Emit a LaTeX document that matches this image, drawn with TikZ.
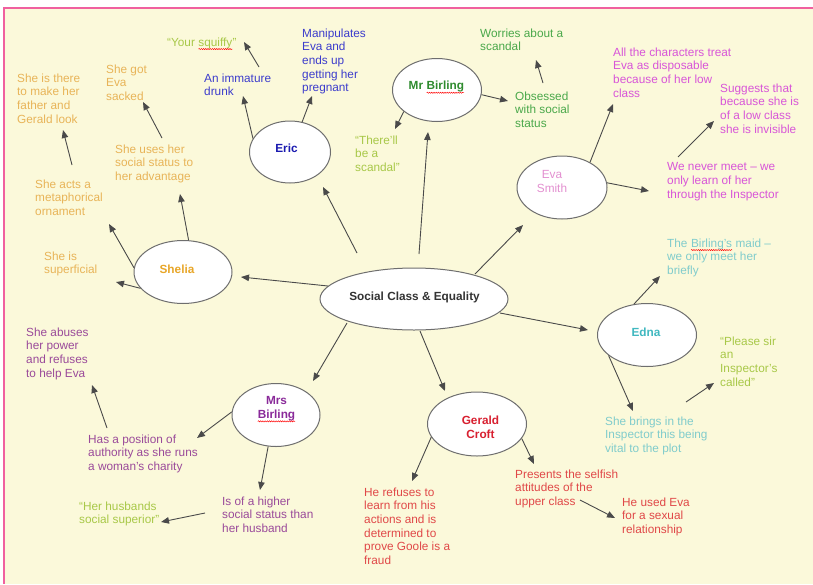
\documentclass[tikz,border=0pt]{standalone}
\usepackage{fontspec}
\setmainfont{Liberation Sans}
\usetikzlibrary{shapes.geometric,arrows.meta,decorations.pathmorphing}
\newcommand\redwave[1]{\tikz[baseline=(wv.base)]{\node[shape=rectangle, draw=none, fill=none, inner sep=0pt, outer sep=0pt,
    minimum width=0pt, minimum height=0pt, align=left, anchor=center] (wv) {#1};
  \draw[red, line width=0.45pt, decorate, decoration={snake, amplitude=0.6pt, segment length=2.2pt}]
    ([yshift=-2.8pt]wv.base west) -- ([yshift=-2.8pt]wv.base east);}}
\definecolor{bgcream}{HTML}{FBF9DA}
\definecolor{borderpink}{HTML}{F0609F}
\definecolor{ellgray}{HTML}{6E6E6E}
\definecolor{arrgray}{HTML}{4A4A4A}
\definecolor{centerc}{HTML}{333333}
\definecolor{ericc}{HTML}{1A1AB0}
\definecolor{ericlt}{HTML}{3C3CCC}
\definecolor{mrbc}{HTML}{2E8B2E}
\definecolor{mrblt}{HTML}{4AA84A}
\definecolor{quotec}{HTML}{A8C848}
\definecolor{evac}{HTML}{E38FD0}
\definecolor{evalt}{HTML}{D855D8}
\definecolor{sheliac}{HTML}{E8A628}
\definecolor{shelt}{HTML}{E8B458}
\definecolor{ednac}{HTML}{40B8C0}
\definecolor{ednalt}{HTML}{80CCCC}
\definecolor{mrsc}{HTML}{8A2A9A}
\definecolor{mrslt}{HTML}{9A4A9A}
\definecolor{geraldc}{HTML}{D82030}
\definecolor{gerlt}{HTML}{E04848}
\tikzset{
  basefont/.style={font=\fontsize{11.8}{13.6}\selectfont},
  txt/.style={basefont, anchor=north west, inner sep=0pt, align=left},
  charnode/.style={ellipse, draw=ellgray, fill=white, line width=1pt, inner sep=0pt},
  charlbl/.style={inner sep=0pt, align=center, font=\fontsize{11.8}{13.6}\selectfont\bfseries},
  arr/.style={draw=arrgray, line width=0.9pt, -{Triangle[length=8pt,width=6.5pt]}},
}
\begin{document}
\begin{tikzpicture}[x=1pt,y=-1pt]
\useasboundingbox (0,0) rectangle (813,584);
\fill[white] (0,0) rectangle (813,584);
\fill[bgcream] (4,8) rectangle (813,584);
\draw[borderpink, line width=2pt] (813,8) -- (4,8) -- (4,584);

% character ellipses
\node[charnode, minimum width=188pt, minimum height=62pt] (center) at (414,299) {};
\node[charnode, minimum width=81pt, minimum height=62pt] (eric) at (290,152) {};
\node[charnode, minimum width=89pt, minimum height=63pt] (mrb) at (437,90) {};
\node[charnode, minimum width=90pt, minimum height=63pt] (eva) at (562,187.5) {};
\node[charnode, minimum width=98pt, minimum height=63pt] (shelia) at (183,272) {};
\node[charnode, minimum width=99pt, minimum height=63pt] (edna) at (647,335) {};
\node[charnode, minimum width=88pt, minimum height=63pt] (mrs) at (276,415) {};
\node[charnode, minimum width=99pt, minimum height=64pt] (gerald) at (477,424) {};

% ellipse labels
\node[charlbl, text=centerc] (centerlbl) at (414.5,297) {Social Class \& Equality};
\node[charlbl, text=ericc] (ericlbl) at (286.5,148) {Eric};
\node[charlbl, text=mrbc] (mrblbl) at (436.5,87.5) {Mr \redwave{Birling}};
\node[charlbl, text=evac, font=\fontsize{11.8}{13.6}\selectfont] (evalbl) at (552,181.5) {Eva\\Smith};
\node[charlbl, text=sheliac] (shelialbl) at (177,269) {Shelia};
\node[charlbl, text=ednac] (ednalbl) at (646,332) {Edna};
\node[charlbl, text=mrsc] (mrslbl) at (276.5,409.5) {Mrs\\\redwave{Birling}};
\node[charlbl, text=geraldc] (geraldlbl) at (480.5,427.5) {Gerald\\Croft};

% texts
\node[txt, text=quotec] (squiffy) at (167,37.5) {“Your \redwave{squiffy}”};
\node[txt, text=ericlt] (drunk) at (204,73.5) {An immature\\drunk};
\node[txt, text=ericlt] (manip) at (302,28.5) {Manipulates\\Eva and\\ends up\\getting her\\pregnant};
\node[txt, text=mrblt] (worries) at (480,28.5) {Worries about a\\scandal};
\node[txt, text=mrblt] (obsessed) at (515,91.5) {Obsessed\\with social\\status};
\node[txt, text=quotec] (therell) at (355,135.5) {“There’ll\\be a\\scandal”};
\node[txt, text=evalt] (alltreat) at (613,47.5) {All the characters treat\\Eva as disposable\\because of her low\\class};
\node[txt, text=evalt] (suggests) at (720,83.5) {Suggests that\\because she is\\of a low class\\she is invisible};
\node[txt, text=evalt] (nevermeet) at (667,162.5) {We never meet – we\\only learn of her\\through the Inspector};
\node[txt, text=shelt] (sacked) at (106,64.5) {She got\\Eva\\sacked};
\node[txt, text=shelt] (there) at (17,73.5) {She is there\\to make her\\father and\\Gerald look};
\node[txt, text=shelt] (uses) at (115,144.5) {She uses her\\social status to\\her advantage};
\node[txt, text=shelt] (ornament) at (35,179.5) {She acts a\\metaphorical\\ornament};
\node[txt, text=shelt] (superficial) at (44,251.5) {She is\\superficial};
\node[txt, text=mrslt] (abuses) at (26,327.5) {She abuses\\her power\\and refuses\\to help Eva};
\node[txt, text=ednalt] (maid) at (667,238.5) {The \redwave{Birling’s} maid –\\we only meet her\\briefly};
\node[txt, text=quotec] (please) at (720,336.5) {“Please sir\\an\\Inspector’s\\called”};
\node[txt, text=ednalt] (brings) at (605,416.5) {She brings in the\\Inspector this being\\vital to the plot};
\node[txt, text=gerlt] (usedeva) at (622,497.5) {He used Eva\\for a sexual\\relationship};
\node[txt, text=gerlt] (refuses) at (364,487.5) {He refuses to\\learn from his\\actions and is\\determined to\\prove Goole is a\\fraud};
\node[txt, text=gerlt] (presents) at (515,469.5) {Presents the selfish\\attitudes of the\\upper class};
\node[txt, text=mrslt] (position) at (88,434.5) {Has a position of\\authority as she runs\\a woman’s charity};
\node[txt, text=quotec] (husbands) at (79,501.5) {“Her husbands\\social superior”};
\node[txt, text=mrslt] (higher) at (222,496.5) {Is of a higher\\social status than\\her husband};

% connector end points
\coordinate (c1s) at (357,253); \coordinate (c1t) at (323,187);
\coordinate (c2s) at (419,254); \coordinate (c2t) at (428,132);
\coordinate (c3s) at (475,274); \coordinate (c3t) at (523,225);
\coordinate (c4s) at (328,286); \coordinate (c4t) at (241,277);
\coordinate (c5s) at (500,313); \coordinate (c5t) at (588,330);
\coordinate (c6s) at (347,323); \coordinate (c6t) at (313,381);
\coordinate (c7s) at (420,331); \coordinate (c7t) at (445,391);
\coordinate (e1t) at (243,96);
\coordinate (e2s) at (259,67); \coordinate (e2t) at (244,42);
\coordinate (e3t) at (312,96);
\coordinate (m1t) at (395,129);
\coordinate (m2t) at (508,101);
\coordinate (m3s) at (543,83); \coordinate (m3t) at (536,60);
\coordinate (v1t) at (613,104);
\coordinate (v2t) at (649,191);
\coordinate (v3s) at (678,157); \coordinate (v3t) at (714,121);
\coordinate (s1t) at (180,194);
\coordinate (s2t) at (109,224);
\coordinate (s3t) at (116,282);
\coordinate (s4s) at (162,138); \coordinate (s4t) at (143,102);
\coordinate (s5s) at (72,165); \coordinate (s5t) at (63,130);
\coordinate (d1t) at (660,276);
\coordinate (d2t) at (633,411);
\coordinate (d3s) at (686,402); \coordinate (d3t) at (714,383);
\coordinate (b1t) at (197,438);
\coordinate (b2t) at (260,490);
\coordinate (b3s) at (205,513); \coordinate (b3t) at (161,522);
\coordinate (b4s) at (107,428); \coordinate (b4t) at (92,385);
\coordinate (g1t) at (412,481);
\coordinate (g2t) at (534,464);
\coordinate (g3s) at (580,500); \coordinate (g3t) at (615,518);

% connectors
\draw[arr] (c1s) -- (c1t);
\draw[arr] (c2s) -- (c2t);
\draw[arr] (c3s) -- (c3t);
\draw[arr] (c4s) -- (c4t);
\draw[arr] (c5s) -- (c5t);
\draw[arr] (c6s) -- (c6t);
\draw[arr] (c7s) -- (c7t);
\draw[arr] (eric.160) -- (e1t);
\draw[arr] (e2s) -- (e2t);
\draw[arr] (eric.68) -- (e3t);
\draw[arr] (mrb.213) -- (m1t);
\draw[arr] (mrb.-6) -- (m2t);
\draw[arr] (m3s) -- (m3t);
\draw[arr] (eva.42) -- (v1t);
\draw[arr] (eva.6) -- (v2t);
\draw[arr] (v3s) -- (v3t);
\draw[arr] (shelia.80) -- (s1t);
\draw[arr] (shelia.175) -- (s2t);
\draw[arr] (shelia.201) -- (s3t);
\draw[arr] (s4s) -- (s4t);
\draw[arr] (s5s) -- (s5t);
\draw[arr] (edna.113) -- (d1t);
\draw[arr] (edna.208) -- (d2t);
\draw[arr] (d3s) -- (d3t);
\draw[arr] (mrs.176) -- (b1t);
\draw[arr] (mrs.256) -- (b2t);
\draw[arr] (b3s) -- (b3t);
\draw[arr] (b4s) -- (b4t);
\draw[arr] (gerald.196) -- (g1t);
\draw[arr] (gerald.-18) -- (g2t);
\draw[arr] (g3s) -- (g3t);
\end{tikzpicture}
\end{document}
